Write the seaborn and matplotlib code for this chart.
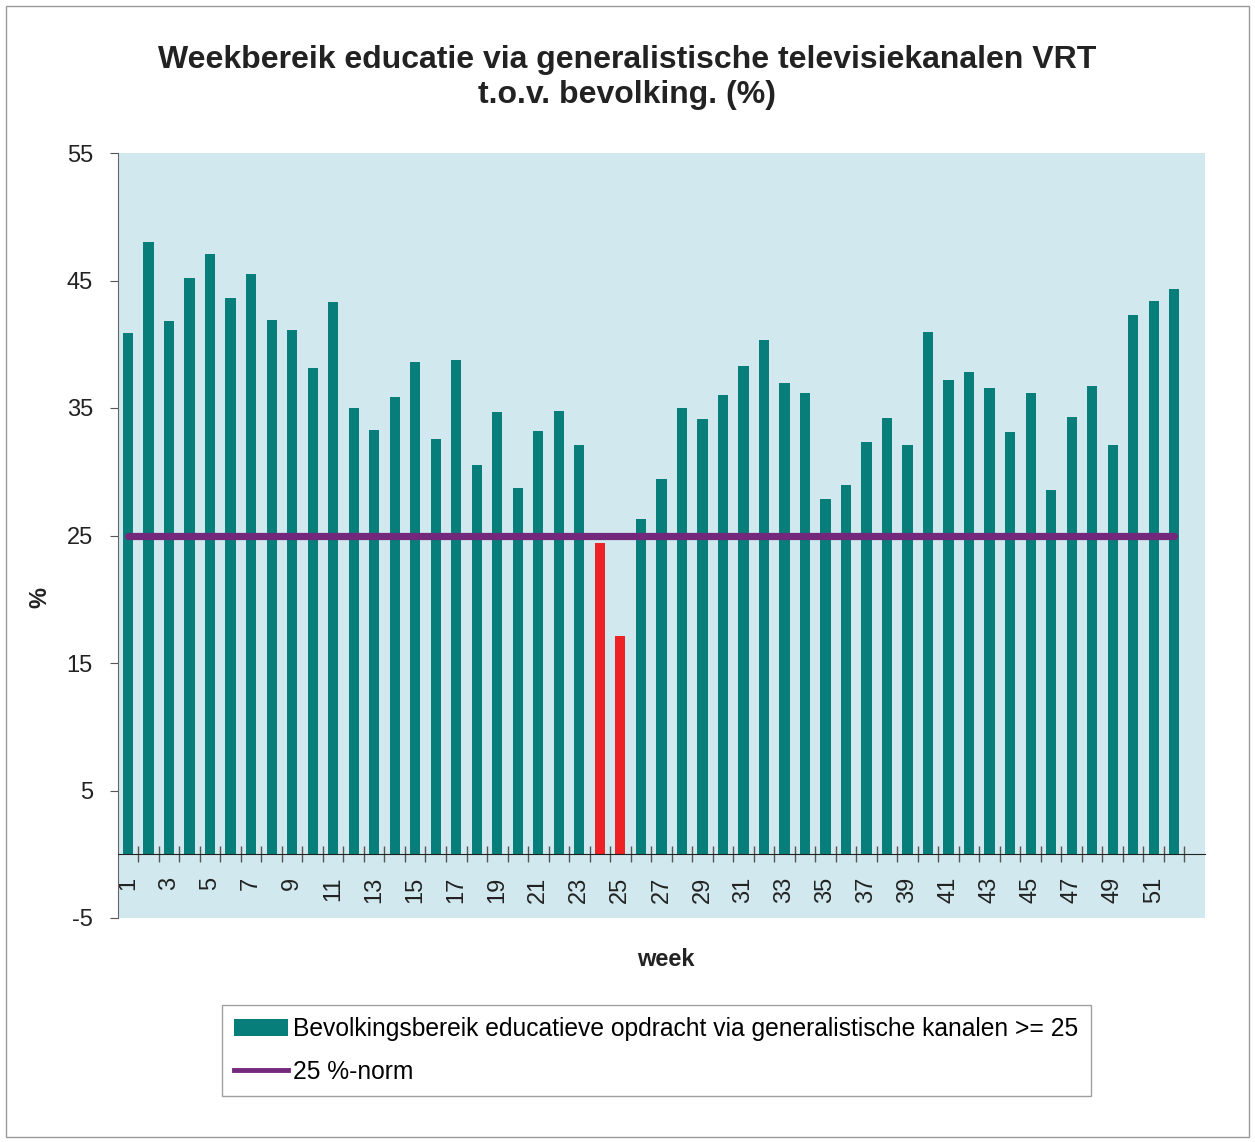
import matplotlib
matplotlib.use('Agg')
import seaborn as sns
import pandas as pd
import matplotlib.pyplot as plt
from matplotlib.patches import Patch, Rectangle
from matplotlib.lines import Line2D
from matplotlib.ticker import FixedLocator

# weekly reach (% of population), weeks 1-52
weeks = list(range(1, 53))
reach = [40.9, 48.0, 41.8, 45.2, 47.1, 43.6, 45.5, 41.9, 41.1, 38.1,
         43.3, 35.0, 33.3, 35.9, 38.6, 32.6, 38.8, 30.5, 34.7, 28.7,
         33.2, 34.8, 32.1, 24.4, 17.1, 26.3, 29.4, 35.0, 34.1, 36.0,
         38.3, 40.3, 37.0, 36.2, 27.9, 29.0, 32.3, 34.2, 32.1, 41.0,
         37.2, 37.8, 36.6, 33.1, 36.2, 28.6, 34.3, 36.7, 32.1, 42.3,
         43.4, 44.3]
below_norm_weeks = [24, 25]
norm = 25
y_ticks = [-5, 5, 15, 25, 35, 45, 55]
x_labels = [str(w) if w % 2 == 1 else '' for w in weeks]

title = 'Weekbereik educatie via generalistische televisiekanalen VRT\nt.o.v. bevolking. (%)'
bar_label = 'Bevolkingsbereik educatieve opdracht via generalistische kanalen >= 25'
line_label = '25 %-norm'

teal = '#087E7A'
red = '#EE2124'
purple = '#74287B'
bg = '#D1E9EE'

plt.rcParams['font.family'] = ['Liberation Sans', 'DejaVu Sans']
plt.rcParams['axes.unicode_minus'] = False

df = pd.DataFrame({'week': weeks, 'bereik': reach})
palette = {w: (red if w in below_norm_weeks else teal) for w in weeks}

fig = plt.figure(figsize=(12.55, 11.42), dpi=100)
ax = fig.add_axes([118 / 1255, 1 - 918 / 1142, 1087 / 1255, 765 / 1142])
ax.set_facecolor(bg)

sns.barplot(data=df, x='week', y='bereik', hue='week', palette=palette,
            width=0.5, saturation=1, legend=False, linewidth=0, ax=ax)
ax.plot([0, len(weeks) - 1], [norm, norm], color=purple, lw=5.2,
        solid_capstyle='round')

ax.set_xlim(-0.49, 52.5)
ax.set_ylim(-5, 55)
ax.set_yticks(y_ticks)
ax.set_xticks(range(len(weeks)))
ax.set_xticklabels(x_labels)
ax.xaxis.set_minor_locator(FixedLocator([i + 0.5 for i in range(len(weeks))]))
ax.tick_params(axis='x', which='major', length=0, pad=16, labelsize=17,
               labelrotation=90, labelcolor='#222222')
ax.tick_params(axis='x', which='minor', length=11, direction='inout',
               color='#555555', width=1)
ax.tick_params(axis='y', labelsize=17, length=6, pad=12, color='#555555',
               labelcolor='#222222')

ax.spines['top'].set_visible(False)
ax.spines['right'].set_visible(False)
ax.spines['bottom'].set_position(('data', 0))
ax.spines['bottom'].set_color('#222222')
ax.spines['left'].set_color('#666666')
ax.spines['left'].set_linestyle((0, (1, 1)))
ax.set_xlabel('')
ax.set_ylabel('')

fig.text(0.5, 1 - 45 / 1142, title, ha='center', va='top', fontsize=23,
         fontweight='bold', linespacing=1.2, color='#222222')
fig.text(40 / 1255, 1 - 597 / 1142, '%', rotation=90, ha='center',
         va='center', fontsize=17, fontweight='bold', color='#222222')
fig.text(666 / 1255, 1 - 960 / 1142, 'week', ha='center', va='center',
         fontsize=17, fontweight='bold', color='#222222')

handles = [Patch(facecolor=teal, edgecolor='none'),
           Line2D([0], [0], color=purple, lw=3.5)]
leg = fig.legend(handles, [bar_label, line_label], loc='upper left',
                 bbox_to_anchor=(222 / 1255, 1 - 1005 / 1142),
                 fontsize=17.7, frameon=True, fancybox=False,
                 edgecolor='#888888', borderpad=0.5, labelspacing=0.75,
                 handlelength=2.2, handletextpad=0.2, borderaxespad=0)
leg.get_frame().set_linewidth(1)

fig.add_artist(Rectangle((6 / 1255, 5 / 1142), 1243 / 1255, 1131 / 1142,
                         transform=fig.transFigure, fill=False,
                         edgecolor='#999999', lw=1))

fig.savefig('out.png', dpi=100)
